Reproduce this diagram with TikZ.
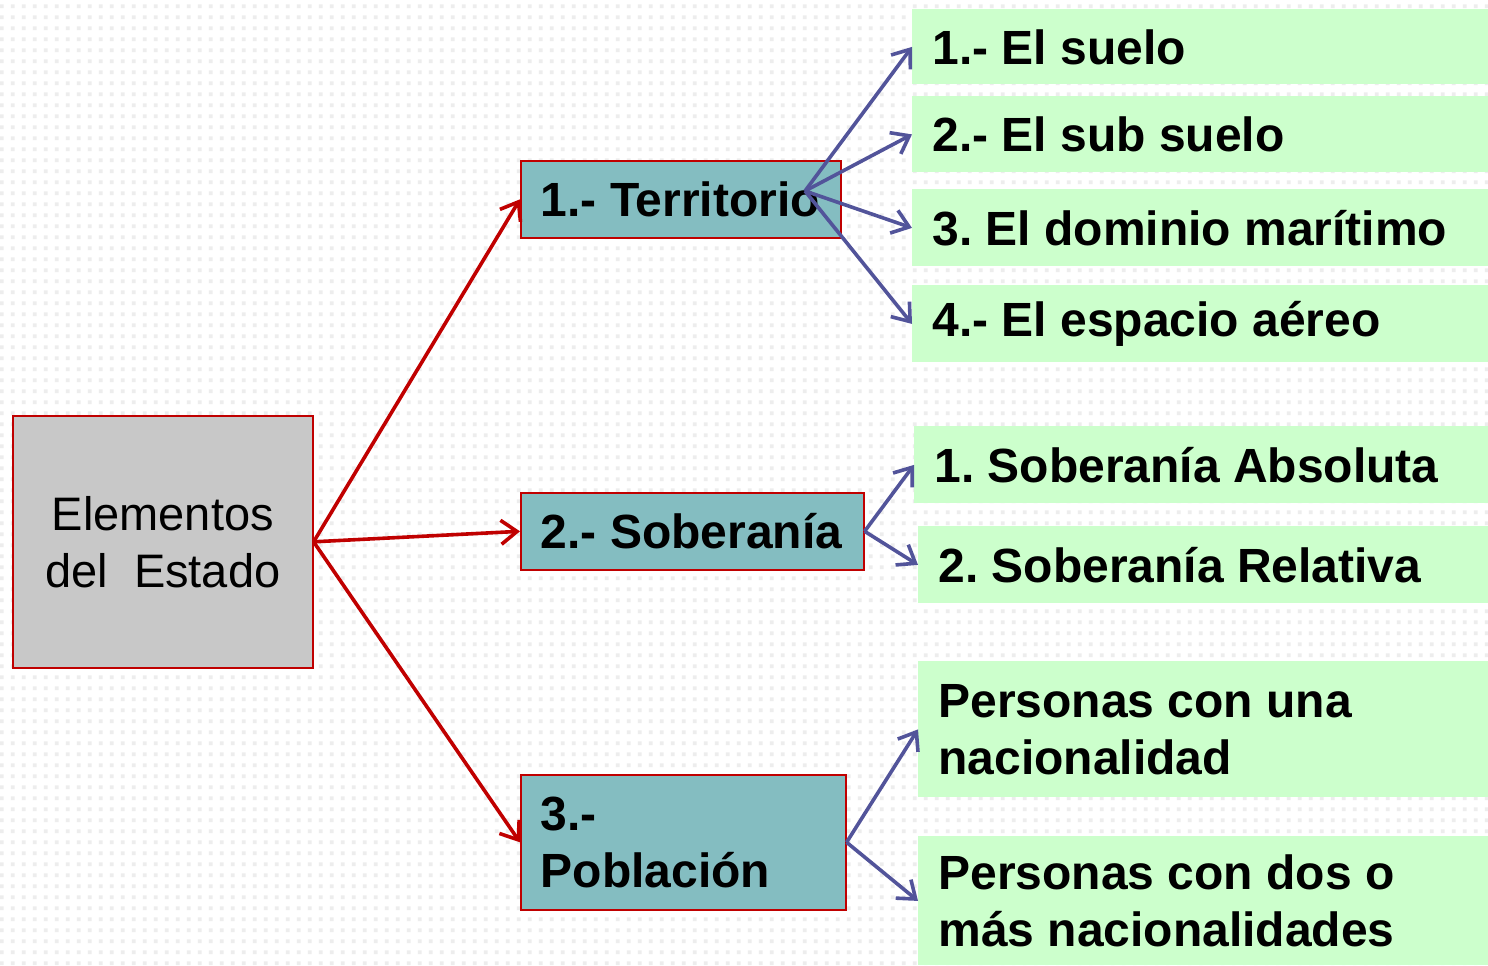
\documentclass[tikz,border=0pt]{standalone}
\usepackage{fontspec}
\setmainfont{Liberation Sans}
\usetikzlibrary{arrows.meta,patterns}
\pgfdeclarepatternformonly{bgdots}{\pgfpointorigin}{\pgfpoint{5.5pt}{5.5pt}}{\pgfpoint{5.5pt}{5.5pt}}{\pgfpathrectangle{\pgfpoint{0.5pt}{0.5pt}}{\pgfpoint{2pt}{2pt}}\pgfusepath{fill}}
\newcommand\bigf{\fontsize{23.5pt}{28.5pt}\selectfont\frenchspacing}
\newcommand\boldf{\fontsize{24pt}{28.5pt}\selectfont\frenchspacing\bfseries}
\definecolor{redb}{HTML}{C00000}
\definecolor{tealf}{HTML}{84BDC1}
\definecolor{grayf}{HTML}{C8C8C8}
\definecolor{greenf}{HTML}{CCFFCC}
\definecolor{bluea}{HTML}{52549A}
\tikzset{
  base/.style={anchor=north west, inner ysep=0pt, inner xsep=10pt, align=flush left, font=\boldf},
  mainbox/.style={base, draw=redb, line width=0.8pt, fill=grayf, align=flush center, font=\bigf, inner xsep=0pt},
  midbox/.style={base, draw=redb, line width=0.8pt, fill=tealf},
  leaf/.style={base, fill=greenf},
  redarrow/.style={draw=redb, line width=1.8pt, -{Straight Barb[length=8pt,width=12pt,line width=1.8pt]}},
  bluearrow/.style={draw=bluea, line width=1.8pt, -{Straight Barb[length=8pt,width=12pt,line width=1.8pt]}}
}
\begin{document}
\begin{tikzpicture}[x=0.5pt,y=-0.5pt]
\useasboundingbox (0,0) rectangle (1488,965);
\fill[white] (0,0) rectangle (1488,965);
\fill[pattern=bgdots, pattern color=black!7] (0,0) rectangle (1488,965);

\node[mainbox, minimum width=150pt, minimum height=126pt, text width=150pt] (E) at (12,415) {Elementos\\del\ \ Estado};

\node[midbox, minimum width=160pt, minimum height=38.5pt, text width=140pt] (T) at (520,160) {1.- Territorio};
\node[midbox, minimum width=171.5pt, minimum height=38.5pt, text width=151.5pt] (S) at (520,492) {2.- Soberanía};
\node[midbox, minimum width=162.5pt, minimum height=67.5pt, text width=142.5pt] (P) at (520,774) {3.-\\Población};

\node[leaf, minimum width=288pt, minimum height=37.5pt, text width=268pt] (t1) at (912,9) {1.- El suelo};
\node[leaf, minimum width=288pt, minimum height=38pt, text width=268pt] (t2) at (912,96) {2.- El sub suelo};
\node[leaf, minimum width=288pt, minimum height=38.5pt, text width=268pt] (t3) at (912,189) {3. El dominio marítimo};
\node[leaf, minimum width=288pt, minimum height=38.5pt, text width=268pt] (t4) at (912,285) {4.- El espacio aéreo};

\node[leaf, minimum width=287pt, minimum height=38.5pt, text width=267pt] (s1) at (914,426) {1. Soberanía Absoluta};
\node[leaf, minimum width=285pt, minimum height=38.5pt, text width=265pt] (s2) at (918,526) {2. Soberanía Relativa};

\node[leaf, minimum width=285pt, minimum height=68pt, text width=265pt] (p1) at (918,661) {Personas con una\\nacionalidad};
\node[leaf, minimum width=285pt, minimum height=64.5pt, text width=265pt] (p2) at (918,836) {Personas con dos o\\más nacionalidades};

\draw[redarrow] (E.east) -- (T.west);
\draw[redarrow] (E.east) -- (S.west);
\draw[redarrow] (E.east) -- (P.west);

\coordinate (tc) at (805,191);
\draw[bluearrow] (tc) -- (t1.west);
\draw[bluearrow] (tc) -- (t2.west);
\draw[bluearrow] (tc) -- (t3.west);
\draw[bluearrow] (tc) -- (t4.west);

\draw[bluearrow] (S.east) -- (s1.west);
\draw[bluearrow] (S.east) -- (s2.west);

\draw[bluearrow] (P.east) -- (p1.west);
\draw[bluearrow] (P.east) -- (p2.west);
\end{tikzpicture}
\end{document}
